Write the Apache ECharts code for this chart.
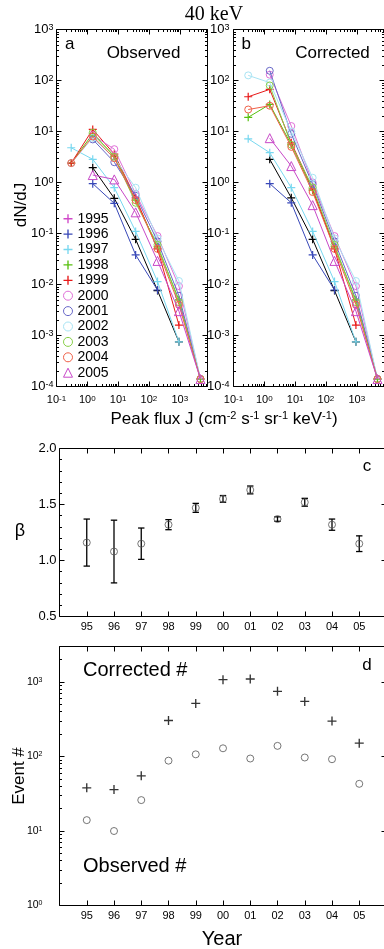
<!DOCTYPE html>
<html><head><meta charset="utf-8">
<script src="https://cdn.jsdelivr.net/npm/echarts@6/dist/echarts.min.js"></script>
<style>html,body{margin:0;padding:0;background:#fff}#c{width:384px;height:949px}</style>
</head><body><div id="c"></div>
<script>
// ---------------- DATA ----------------
const fluxBins = [0.3, 1.5, 7.5, 37, 190, 940, 4700];
const years = ['1995','1996','1997','1998','1999','2000','2001','2002','2003','2004','2005'];

const observed1995 = [null, 1.95, 0.49, 0.077, 0.0076, 0.00075, null];
const observed1996 = [null, 0.95, 0.39, 0.038, 0.0078, null, null];
const observed1997 = [4.8, 2.85, 0.79, 0.11, 0.0114, 0.00075, null];
const observed1998 = [2.4, 9.0, 3.3, 0.45, 0.055, 0.005, 0.00014];
const observed1999 = [2.4, 11, 3.6, 0.5, 0.05, 0.0016, null];
const observed2000 = [null, 8.5, 4.5, 0.6, 0.089, 0.0093, 0.00014];
const observed2001 = [null, 7.0, 2.5, 0.55, 0.07, 0.006, 0.00014];
const observed2002 = [2.4, 7.5, 3.0, 0.79, 0.08, 0.0117, 0.00014];
const observed2003 = [null, 9.5, 3.2, 0.4, 0.06, 0.0045, 0.00014];
const observed2004 = [2.4, 8.0, 3.0, 0.45, 0.05, 0.004, 0.00014];
const observed2005 = [null, 1.4, 1.15, 0.26, 0.029, 0.003, 0.00014];

const corrected1995 = [null, 2.85, 0.5, 0.077, 0.0076, 0.00075, null];
const corrected1996 = [null, 0.95, 0.4, 0.038, 0.0078, null, null];
const corrected1997 = [7.2, 3.85, 0.79, 0.11, 0.0114, 0.00075, null];
const corrected1998 = [19, 34, 5.5, 0.7, 0.055, 0.005, 0.00014];
const corrected1999 = [48, 67, 6.0, 0.75, 0.05, 0.0016, null];
const corrected2000 = [null, 130, 12.8, 1.0, 0.089, 0.0093, 0.00014];
const corrected2001 = [null, 155, 9.0, 0.92, 0.07, 0.006, 0.00014];
const corrected2002 = [126, 91, 10, 1.24, 0.08, 0.0117, 0.00014];
const corrected2003 = [null, 80, 5.5, 0.8, 0.06, 0.0045, 0.00014];
const corrected2004 = [27, 32, 5.0, 0.65, 0.05, 0.004, 0.00014];
const corrected2005 = [null, 7.4, 2.1, 0.36, 0.029, 0.003, 0.00014];

const yearNumbers = [1995, 1996, 1997, 1998, 1999, 2000, 2001, 2002, 2003, 2004, 2005];
const betaValues = [1.16, 1.08, 1.15, 1.32, 1.47, 1.55, 1.63, 1.37, 1.52, 1.32, 1.15];
const betaErrors = [0.21, 0.28, 0.14, 0.045, 0.04, 0.03, 0.035, 0.02, 0.035, 0.05, 0.07];
const correctedCounts = [38, 36, 55, 305, 516, 1076, 1097, 750, 550, 299, 151];
const observedCounts = [14, 10, 26, 88, 107, 129, 94, 139, 97, 92, 43];

// ---------------- STYLE ----------------
const observedSets = [observed1995, observed1996, observed1997, observed1998, observed1999, observed2000, observed2001, observed2002, observed2003, observed2004, observed2005];
const correctedSets = [corrected1995, corrected1996, corrected1997, corrected1998, corrected1999, corrected2000, corrected2001, corrected2002, corrected2003, corrected2004, corrected2005];
const lineColors = ['#000000', '#3848b8', '#78d8f0', '#58c010', '#e81818', '#e070d8', '#6868c8', '#a8e4f4', '#88d048', '#f06048', '#c848c8'];
const legendColors = ['#d048c8', '#3848b8', '#78d8f0', '#58c010', '#e81818', '#e070d8', '#6868c8', '#a8e4f4', '#88d048', '#f06048', '#c848c8'];
const markerKinds = ['plus','plus','plus','plus','plus','circle','circle','circle','circle','circle','triangle'];
const PLUS = 'path://M4.25,0H5.75V4.25H10V5.75H5.75V10H4.25V5.75H0V4.25H4.25Z';
const FONT = '"Liberation Sans", Arial, Helvetica, sans-serif';

const chart = echarts.init(document.getElementById('c'), null, {renderer: 'canvas'});
const xAxis = [], yAxis = [], series = [];
function push(arr, o) { arr.push(o); return arr.length - 1; }
const tickStyle = {color: '#000', width: 1};
function powFmt(v) {
  const l = Math.log10(v), e = Math.round(l);
  if (Math.abs(l - e) > 1e-6) return '';
  return '10{s|' + e + '}';
}
function minorLogs(lo, hi) {
  const out = [];
  for (let e = Math.floor(lo); e < hi; e++) for (let k = 2; k <= 9; k++) {
    const v = e + Math.log10(k);
    if (v > lo + 1e-9 && v < hi - 1e-9) out.push(v);
  }
  return out;
}
function logAxes(arr, grid, min, max, mainPos, otherPos, label) {
  const main = push(arr, {type: 'log', logBase: 10, gridIndex: grid, min: min, max: max, position: mainPos,
    axisLine: {show: false, onZero: false}, splitLine: {show: false},
    axisTick: {show: true, inside: true, length: 5, lineStyle: tickStyle}, axisLabel: label});
  push(arr, {type: 'log', logBase: 10, gridIndex: grid, min: min, max: max, position: otherPos,
    axisLine: {show: false, onZero: false}, splitLine: {show: false},
    axisTick: {show: true, inside: true, length: 5, lineStyle: tickStyle}, axisLabel: {show: false}});
  const lmin = Math.log10(min), lmax = Math.log10(max);
  [mainPos, otherPos].forEach(function (p) {
    push(arr, {type: 'value', gridIndex: grid, min: lmin, max: lmax, position: p,
      axisLine: {show: false, onZero: false}, splitLine: {show: false}, axisLabel: {show: false},
      axisTick: {show: true, inside: true, length: 2.5, customValues: minorLogs(lmin, lmax), lineStyle: tickStyle}});
  });
  return main;
}
function linAxes(arr, grid, cfg, mainPos, otherPos, label) {
  const base = {gridIndex: grid, axisLine: {show: false, onZero: false}, splitLine: {show: false},
    axisTick: {show: true, inside: true, length: 5, lineStyle: tickStyle}};
  const main = push(arr, Object.assign({}, base, cfg, {position: mainPos, axisLabel: label}));
  push(arr, Object.assign({}, base, cfg, {position: otherPos, axisLabel: {show: false}}));
  return main;
}
const richSup = function (fs) { return {s: {fontSize: fs, fontFamily: FONT, color: '#000', verticalAlign: 'top'}}; };

const grids = [
  {left: 56.5, top: 29.5, width: 151, height: 357},
  {left: 233.5, top: 29.5, width: 151, height: 357},
  {left: 59.5, top: 448.5, width: 327, height: 168},
  {left: 59.5, top: 646.5, width: 327, height: 259}
].map(function (g) { return Object.assign(g, {show: true, borderColor: '#000', borderWidth: 1, backgroundColor: 'transparent', containLabel: false, outerBoundsMode: 'none'}); });

const XMAX = Math.pow(10, 3.9);
// Panels a, b
const spectraAxes = [0, 1].map(function (g) {
  const xi = logAxes(xAxis, g, 0.1, XMAX, 'bottom', 'top',
    {show: true, formatter: powFmt, fontSize: 11, fontFamily: FONT, color: '#000', margin: 8, rich: richSup(8)});
  const yi = logAxes(yAxis, g, 1e-4, 1e3, 'left', 'right',
    {show: true, formatter: powFmt, fontSize: 13, fontFamily: FONT, color: '#000', margin: g === 0 ? 3 : 4, rich: richSup(9)});
  return [xi, yi];
});
function markerFor(i, size) {
  const c = lineColors[i], k = markerKinds[i];
  if (k === 'plus') return {symbol: PLUS, symbolSize: size, itemStyle: {color: c, borderWidth: 0}};
  return {symbol: k, symbolSize: k === 'triangle' ? size + 1 : size - 1,
    itemStyle: {color: 'rgba(0,0,0,0)', borderColor: c, borderWidth: 1}};
}
[observedSets, correctedSets].forEach(function (sets, p) {
  sets.forEach(function (vals, i) {
    const pts = [];
    vals.forEach(function (v, j) { if (v !== null) pts.push([fluxBins[j], v]); });
    series.push(Object.assign({
      type: 'line', name: years[i], xAxisIndex: spectraAxes[p][0], yAxisIndex: spectraAxes[p][1],
      data: pts, showSymbol: true, lineStyle: {color: lineColors[i], width: 1}, silent: true,
      emphasis: {disabled: true}, z: 2 + i
    }, markerFor(i, 8)));
  });
});

// Panel c
const yearAxisCfg = {type: 'value', min: 1994, max: 2006, interval: 1};
const yearLabel = {show: true, fontSize: 11, fontFamily: FONT, color: '#000', margin: 5,
  formatter: function (v) { return (v >= 1995 && v <= 2005) ? String(v % 100).padStart(2, '0') : ''; }};
const cx = linAxes(xAxis, 2, yearAxisCfg, 'bottom', 'top', yearLabel);
const cyCfg = {type: 'value', min: 0.5, max: 2.0, interval: 0.5,
  minorTick: {show: true, splitNumber: 5, length: 2.5, lineStyle: tickStyle}};
const cy = linAxes(yAxis, 2, cyCfg, 'left', 'right',
  {show: true, fontSize: 13, fontFamily: FONT, color: '#000', margin: 3, formatter: function (v) { return v.toFixed(1); }});
series.push({
  type: 'custom', xAxisIndex: cx, yAxisIndex: cy, silent: true,
  data: yearNumbers.map(function (y, i) { return [y, betaValues[i] - betaErrors[i], betaValues[i] + betaErrors[i]]; }),
  encode: {x: 0, y: [1, 2]},
  renderItem: function (params, api) {
    const x = api.value(0);
    const lo = api.coord([x, api.value(1)]), hi = api.coord([x, api.value(2)]);
    const w = 3.2, st = {stroke: '#000', lineWidth: 1.3};
    return {type: 'group', children: [
      {type: 'line', shape: {x1: lo[0], y1: lo[1], x2: hi[0], y2: hi[1]}, style: st},
      {type: 'line', shape: {x1: lo[0] - w, y1: lo[1], x2: lo[0] + w, y2: lo[1]}, style: st},
      {type: 'line', shape: {x1: hi[0] - w, y1: hi[1], x2: hi[0] + w, y2: hi[1]}, style: st}
    ]};
  }
});
series.push({
  type: 'scatter', xAxisIndex: cx, yAxisIndex: cy, silent: true, symbol: 'circle', symbolSize: 7,
  itemStyle: {color: 'rgba(0,0,0,0)', borderColor: '#555', borderWidth: 1}, z: 5,
  data: yearNumbers.map(function (y, i) { return [y, betaValues[i]]; })
});

// Panel d
const dx = linAxes(xAxis, 3, yearAxisCfg, 'bottom', 'top', yearLabel);
const dy = logAxes(yAxis, 3, 1, 3000, 'left', 'right',
  {show: true, formatter: powFmt, fontSize: 10.5, fontFamily: FONT, color: '#000', margin: 17, rich: richSup(7)});
series.push({
  type: 'scatter', xAxisIndex: dx, yAxisIndex: dy, silent: true, symbol: PLUS, symbolSize: 9,
  itemStyle: {color: '#000'}, z: 5,
  data: yearNumbers.map(function (y, i) { return [y, correctedCounts[i]]; })
});
series.push({
  type: 'scatter', xAxisIndex: dx, yAxisIndex: dy, silent: true, symbol: 'circle', symbolSize: 7,
  itemStyle: {color: 'rgba(0,0,0,0)', borderColor: '#555', borderWidth: 1}, z: 5,
  data: yearNumbers.map(function (y, i) { return [y, observedCounts[i]]; })
});

// Legend
const legendData = years.map(function (y, i) {
  const k = markerKinds[i], c = legendColors[i];
  if (k === 'plus') return {name: y, icon: PLUS, itemStyle: {color: c, borderWidth: 0}};
  return {name: y, icon: k, itemStyle: {color: 'rgba(0,0,0,0)', borderColor: c, borderWidth: 1}};
});

function txt(x, y, text, size, opts) {
  return Object.assign({type: 'text', x: x, y: y, silent: true, style: Object.assign({
    text: text, font: size + 'px ' + FONT, fill: '#000', textAlign: 'center', verticalAlign: 'middle', textVerticalAlign: 'middle'
  }, (opts && opts.style) || {})}, (opts && opts.el) || {});
}
const graphics = [
  txt(214, 15, '40 keV', 20, {style: {font: '20px "Liberation Serif", "Times New Roman", serif'}}),
  txt(65, 44, 'a', 17, {style: {textAlign: 'left'}}),
  txt(143.5, 53, 'Observed', 17),
  txt(241.5, 44, 'b', 17, {style: {textAlign: 'left'}}),
  txt(332.5, 53, 'Corrected', 17),
  txt(21, 205, 'dN/dJ', 17, {el: {rotation: Math.PI / 2}}),
  txt(224, 419, 'Peak flux J (cm{s|-2} s{s|-1} sr{s|-1} keV{s|-1})', 17,
    {style: {rich: {s: {fontSize: 11, fontFamily: FONT, fill: '#000', verticalAlign: 'top'}}}}),
  txt(367, 466, 'c', 17),
  txt(20, 531, 'β', 18),
  txt(367, 665, 'd', 17),
  txt(83, 670, 'Corrected #', 20, {style: {textAlign: 'left'}}),
  txt(83, 866, 'Observed #', 20, {style: {textAlign: 'left'}}),
  txt(19.5, 776, 'Event #', 17, {el: {rotation: Math.PI / 2}}),
  txt(222, 939, 'Year', 20)
];

chart.setOption({
  animation: false,
  backgroundColor: '#fff',
  textStyle: {fontFamily: FONT},
  grid: grids,
  xAxis: xAxis,
  yAxis: yAxis,
  legend: {left: 63, top: 211, orient: 'vertical', itemWidth: 9, itemHeight: 9, itemGap: 0, padding: 0,
    textStyle: {fontSize: 14, fontFamily: FONT, color: '#000', lineHeight: 15.4}, data: legendData, selectedMode: false},
  series: series,
  graphic: graphics
});
</script></body></html>
